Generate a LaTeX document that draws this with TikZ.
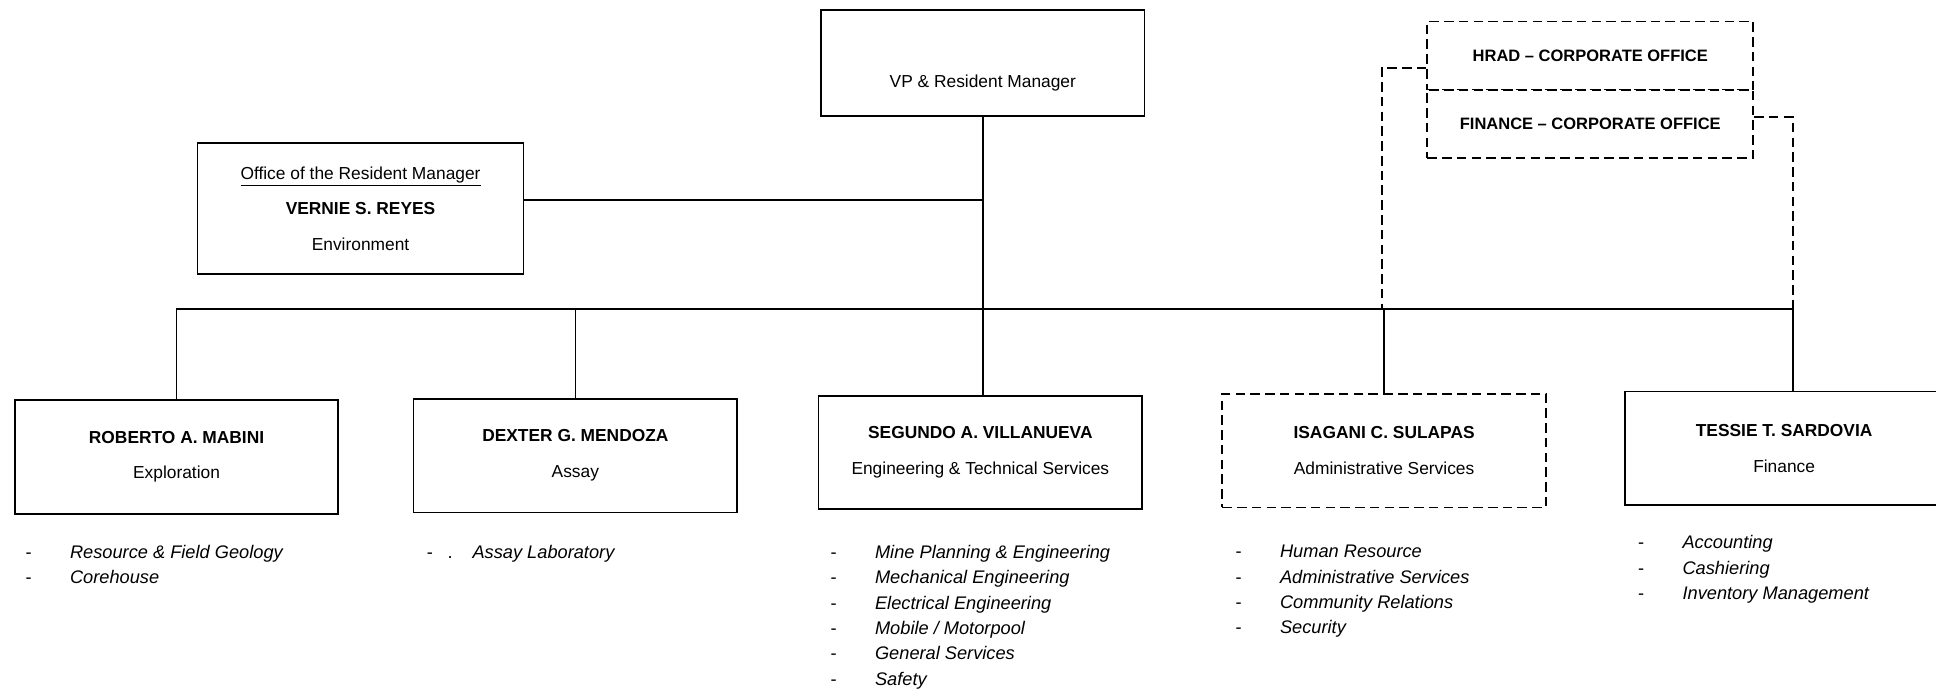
\documentclass[tikz,border=0pt]{standalone}
\usepackage{fontspec}
\setmainfont{Liberation Sans}
\newcommand{\itemdash}{\makebox[0.9cm][l]{\upshape -}}

\begin{document}
\begin{tikzpicture}[x=0.025cm, y=-0.025cm, line width=1pt,
		unit/.style={draw, rectangle, minimum width=6.55cm, minimum height=2.3cm, align=center, font=\fontsize{10}{20.6}\selectfont},
		corp/.style={draw, dash pattern=on 5.5pt off 3pt, rectangle, minimum width=6.6cm, minimum height=1.375cm, font=\bfseries\fontsize{9.5}{12}\selectfont},
		duties/.style={anchor=north west, inner sep=0pt, align=left, font=\itshape\fontsize{10.5}{14.6}\selectfont},
		corplink/.style={dash pattern=on 5.5pt off 3pt}]
			\useasboundingbox (0, 0) rectangle (1568, 559);

			\draw (796, 51) 	node[unit, minimum height=2.15cm] 	(vp) 		{};
			\draw (796, 67) 	node 	(vptext) 	{VP \& Resident Manager};
			\draw (292, 169) 	node[unit, minimum width=6.6cm, minimum height=2.65cm] 	(reyes) 	{\underline{Office of the Resident Manager}\\ \textbf{VERNIE S. REYES}\\ Environment};
			\draw (1288, 45) 	node[corp] 	(hrad) 		{HRAD -- CORPORATE OFFICE};
			\draw (1288, 100.5) 	node[corp] 	(finance) 	{FINANCE -- CORPORATE OFFICE};

			\draw (143, 370) 	node[unit] 	(mabini) 	{\textbf{ROBERTO A. MABINI}\\ Exploration};
			\draw (466, 369) 	node[unit] 	(mendoza) 	{\textbf{DEXTER G. MENDOZA}\\ Assay};
			\draw (794, 366.5) 	node[unit] 	(villanueva) 	{\textbf{SEGUNDO A. VILLANUEVA}\\ Engineering \& Technical Services};
			\draw (1121, 365) 	node[unit, dash pattern=on 5.5pt off 3pt] 	(sulapas) 	{\textbf{ISAGANI C. SULAPAS}\\ Administrative Services};
			\draw (1445, 363) 	node[unit, minimum width=6.45cm] 	(sardovia) 	{\textbf{TESSIE T. SARDOVIA}\\ Finance};

			\draw (20, 441) 	node[duties] 	(mabinilist) 	{\itemdash Resource \& Field Geology\\ \itemdash Corehouse};
			\draw (345, 441) 	node[duties] 	(mendozalist) 	{\makebox[0.925cm][l]{\upshape -\hspace{0.3cm}.}Assay Laboratory};
			\draw (672, 441) 	node[duties] 	(villanuevalist) 	{\itemdash Mine Planning \& Engineering\\ \itemdash Mechanical Engineering\\ \itemdash Electrical Engineering\\ \itemdash Mobile / Motorpool\\ \itemdash General Services\\ \itemdash Safety};
			\draw (1000, 441) 	node[duties] 	(sulapaslist) 	{\itemdash Human Resource\\ \itemdash Administrative Services\\ \itemdash Community Relations\\ \itemdash Security};
			\draw (1326, 433) 	node[duties] 	(sardovialist) 	{\itemdash Accounting\\ \itemdash Cashiering\\ \itemdash Inventory Management};

			\coordinate (busleft) at (143, 250);
			\coordinate (busright) at (1452, 250);

			\draw[line width=1.4pt] (vp.south) -- (vp.south |- villanueva.north);
			\draw ([yshift=0.175cm]reyes.east) -- ([yshift=0.175cm]reyes.east -| vp.south);
			\draw (mabini.north) -- (mabini.north |- busleft) -- (busright) -- (busright |- sardovia.north);
			\draw (mendoza.north) -- (mendoza.north |- busleft);
			\draw (sulapas.north) -- (sulapas.north |- busleft);
			\draw[corplink] ([yshift=-0.25cm]hrad.west) -| ([xshift=-0.05cm]sulapas.north |- busleft);
			\draw[corplink] ([yshift=0.14cm]finance.east) -| (busright);
		\end{tikzpicture}
\end{document}
